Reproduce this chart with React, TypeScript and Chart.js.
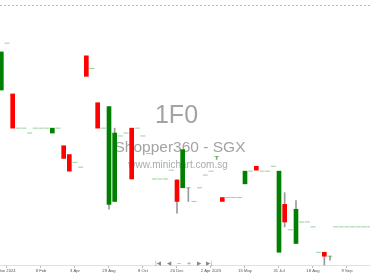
import React, { useEffect, useRef } from 'react';
import { Chart, registerables } from 'chart.js';
Chart.register(...registerables);

const tickIndex = [1, 7, 13, 19, 25, 31, 37, 43, 49, 55, 61];
const tickLabels = ['Jan 2024', '8 Feb', '3 Apr', '29 Aug', '8 Oct', '20 Dec', '2 Apr 2025', '15 May', '31 Jul', '18 Aug', '9 Sep'];

const opens = [
  0.10825, 0.12025, 0.10725, 0.0985, 0.0985, 0.09725, 0.0985, 0.0985, 0.0985, 0.09725,
  0.0985, 0.094, 0.09175, 0.08975, 0.0885, 0.117, 0.11375, 0.105, 0.0985, 0.079,
  0.07975, 0.0965, 0.09725, 0.0985, 0.0985, 0.0965, 0.092, 0.0855, 0.0855, 0.0855,
  0.08775, 0.08525, 0.08325, 0.08325, 0.07975, 0.08325, 0.0865, 0.0875, 0.09125, 0.08075,
  0.08075, 0.08075, 0.08075, 0.08425, 0.0875, 0.08875, 0.0875, 0.0875, 0.08875, 0.06675,
  0.079, 0.0725, 0.069, 0.0745, 0.0745, 0.07325, 0.06675, 0.06675, 0.06575, 0.07325,
  0.07325, 0.07325, 0.07325, 0.07325, 0.07325, 0.07325,
];
const highs = [
  0.118, 0.12025, 0.10725, 0.0985, 0.0985, 0.09725, 0.0985, 0.0985, 0.0985, 0.0985,
  0.0985, 0.094, 0.09175, 0.08975, 0.0885, 0.117, 0.11375, 0.105, 0.0985, 0.104,
  0.0985, 0.0965, 0.09725, 0.0985, 0.0985, 0.0965, 0.092, 0.0855, 0.0855, 0.0855,
  0.08775, 0.08525, 0.093, 0.08325, 0.07975, 0.08325, 0.0865, 0.0875, 0.09125, 0.08075,
  0.08075, 0.08075, 0.08075, 0.0875, 0.0875, 0.08875, 0.0875, 0.0875, 0.08875, 0.0875,
  0.082, 0.0725, 0.08, 0.0745, 0.0745, 0.07325, 0.06675, 0.06675, 0.06575, 0.07325,
  0.07325, 0.07325, 0.07325, 0.07325, 0.07325, 0.07325,
];
const lows = [
  0.10825, 0.12025, 0.0985, 0.0985, 0.0985, 0.09725, 0.0985, 0.0985, 0.0985, 0.09725,
  0.0985, 0.09075, 0.0875, 0.08975, 0.0885, 0.11175, 0.11375, 0.0985, 0.0985, 0.07775,
  0.07975, 0.0965, 0.09725, 0.0855, 0.0985, 0.0965, 0.092, 0.0855, 0.0855, 0.0855,
  0.08775, 0.07675, 0.08325, 0.07975, 0.07975, 0.08325, 0.0865, 0.0875, 0.0905, 0.07975,
  0.08075, 0.08075, 0.08075, 0.08425, 0.0875, 0.08775, 0.0875, 0.0875, 0.08875, 0.06675,
  0.07325, 0.0725, 0.069, 0.0745, 0.0745, 0.07325, 0.06675, 0.0635, 0.06475, 0.07325,
  0.07325, 0.07325, 0.07325, 0.07325, 0.07325, 0.07325,
];
const closes = [
  0.118, 0.12025, 0.0985, 0.0985, 0.0985, 0.09725, 0.0985, 0.0985, 0.0985, 0.0985,
  0.0985, 0.09075, 0.0875, 0.08975, 0.0885, 0.11175, 0.11375, 0.0985, 0.0985, 0.104,
  0.09725, 0.0965, 0.09725, 0.0855, 0.0985, 0.0965, 0.092, 0.0855, 0.0855, 0.0855,
  0.08775, 0.07975, 0.093, 0.08325, 0.07975, 0.08325, 0.0865, 0.0875, 0.09125, 0.07975,
  0.08075, 0.08075, 0.08075, 0.0875, 0.0875, 0.08775, 0.0875, 0.0875, 0.08875, 0.0875,
  0.0745, 0.0725, 0.07775, 0.0745, 0.0745, 0.07325, 0.06675, 0.06575, 0.06575, 0.07325,
  0.07325, 0.07325, 0.07325, 0.07325, 0.07325, 0.07325,
];

const EXTRA = 20;

const watermark = {
  id: 'watermark',
  beforeDatasetsDraw(chart: any) {
    const ctx = chart.ctx;
    ctx.save();
    ctx.textAlign = 'center';
    ctx.textBaseline = 'middle';
    ctx.fillStyle = '#a3a3a3';
    ctx.font = '25px "Liberation Sans", Arial, sans-serif';
    ctx.fillText('1F0', EXTRA + 176.5, 116);
    ctx.font = '15.5px "Liberation Sans", Arial, sans-serif';
    ctx.fillText('Shopper360 - SGX', EXTRA + 180, 148);
    ctx.fillStyle = '#ababab';
    ctx.font = '10px "Liberation Sans", Arial, sans-serif';
    ctx.fillText('www.minichart.com.sg', EXTRA + 178, 165);
    ctx.restore();
  },
};

export default function App() {
  const ref = useRef<HTMLCanvasElement>(null);
  useEffect(() => {
    document.body.style.margin = '0';
    const idx = opens.map((_, i) => i);
    const bodyIdx = idx.filter((i) => opens[i] !== closes[i]);
    const bodies = bodyIdx.map((i) => ({ x: i, y: [opens[i], closes[i]] }));
    const bodyColors = bodyIdx.map((i) => (closes[i] > opens[i] ? '#008000' : '#ff0000'));
    const wickIdx = idx.filter(
      (i) => highs[i] > Math.max(opens[i], closes[i]) || lows[i] < Math.min(opens[i], closes[i])
    );
    const wicks = wickIdx.map((i) => ({ x: i, y: [lows[i], highs[i]] }));
    const dojis = idx.filter((i) => opens[i] === closes[i]).map((i) => ({ x: i, y: closes[i] }));

    const chart = new Chart(ref.current as HTMLCanvasElement, {
      type: 'bar',
      data: {
        datasets: [
          {
            type: 'bar',
            data: bodies as any,
            backgroundColor: bodyColors,
            barThickness: 4,
            grouped: false,
            order: 0,
          } as any,
          {
            type: 'bar',
            data: wicks as any,
            backgroundColor: '#9a9a9a',
            barThickness: 1,
            grouped: false,
            order: 2,
          } as any,
          {
            type: 'scatter',
            data: dojis as any,
            pointStyle: 'line',
            pointRadius: 2.5,
            borderWidth: 1,
            borderColor: 'rgba(0,140,0,0.4)',
            order: 1,
          } as any,
        ],
      },
      options: {
        animation: false,
        responsive: false,
        maintainAspectRatio: false,
        layout: { padding: { left: EXTRA, right: EXTRA, top: 0, bottom: 5 } },
        plugins: { legend: { display: false }, tooltip: { enabled: false } },
        scales: {
          x: {
            type: 'linear',
            min: -0.235,
            max: 65.06,
            offset: false,
            afterBuildTicks: (s: any) => {
              s.ticks = tickIndex.map((v) => ({ value: v }));
            },
            ticks: {
              autoSkip: false,
              maxRotation: 0,
              padding: 0,
              color: '#555',
              font: { size: 4.2, family: '"Liberation Sans", Arial, sans-serif' },
              callback: (v: any) => {
                const k = tickIndex.indexOf(Number(v));
                return k >= 0 ? tickLabels[k] : '';
              },
            },
            grid: { drawOnChartArea: false, drawTicks: true, tickLength: 2, color: '#bbb', offset: false },
            border: { display: true, color: '#e0e0e0' },
          },
          y: {
            min: 0.06325,
            max: 0.13,
            afterBuildTicks: (s: any) => {
              s.ticks = [{ value: 0.13 }];
            },
            ticks: { display: false },
            grid: { drawTicks: false, color: '#bbbbbb' },
            border: { display: false, dash: [2, 2] },
          },
        },
      } as any,
      plugins: [watermark],
    });
    return () => chart.destroy();
  }, []);

  const navStyle: React.CSSProperties = {
    position: 'absolute',
    top: 259,
    fontSize: 5.5,
    color: '#888',
    fontFamily: '"DejaVu Sans", sans-serif',
    transform: 'translateX(-50%)',
    lineHeight: '8px',
  };
  const nav = [
    { x: 158, t: '|◀' },
    { x: 169, t: '◀' },
    { x: 179, t: '−' },
    { x: 189, t: '+' },
    { x: 199, t: '▶' },
    { x: 209, t: '▶|' },
  ];

  return (
    <div style={{ position: 'relative', width: 370, height: 278, overflow: 'hidden', background: '#fff' }}>
      <canvas
        ref={ref}
        width={370 + 2 * EXTRA}
        height={278}
        style={{ position: 'absolute', left: -EXTRA, top: 0, width: 370 + 2 * EXTRA, height: 278 }}
      />
      {nav.map((n, i) => (
        <span key={i} style={{ ...navStyle, left: n.x }}>
          {n.t}
        </span>
      ))}
    </div>
  );
}
